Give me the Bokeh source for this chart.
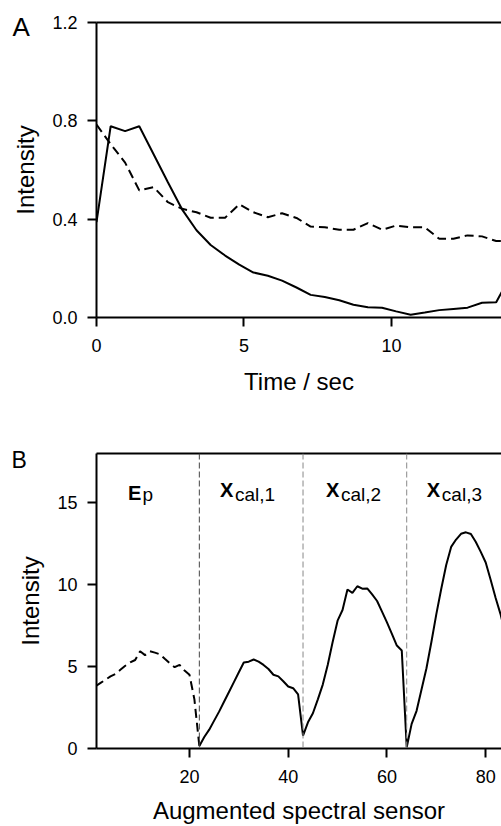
from bokeh.plotting import figure
from bokeh.models import Range1d, FixedTicker, PrintfTickFormatter, Span, Label, LinearAxis
from bokeh.layouts import column
from bokeh.embed import file_html
from bokeh.resources import INLINE

# ---------------- data: panel A ----------------
time_s = [0.00, 0.48, 0.97, 1.45, 1.94, 2.42, 2.90, 3.39, 3.87, 4.36, 4.84, 5.32,
          5.81, 6.29, 6.78, 7.26, 7.74, 8.23, 8.71, 9.20, 9.68, 10.16, 10.65,
          11.13, 11.62, 12.10, 12.58, 13.07, 13.55, 14.04]
solid_a = [0.388, 0.778, 0.758, 0.778, 0.663, 0.550, 0.440, 0.355, 0.295, 0.252,
           0.215, 0.183, 0.170, 0.150, 0.122, 0.092, 0.083, 0.070, 0.052, 0.042,
           0.040, 0.025, 0.011, 0.020, 0.030, 0.035, 0.040, 0.060, 0.062, 0.170]
dashed_a = [0.785, 0.705, 0.630, 0.517, 0.530, 0.469, 0.442, 0.428, 0.406, 0.406,
            0.460, 0.428, 0.408, 0.424, 0.405, 0.370, 0.367, 0.357, 0.357, 0.384,
            0.357, 0.374, 0.367, 0.367, 0.320, 0.320, 0.334, 0.330, 0.311, 0.311]
a_yticks = [0.0, 0.4, 0.8, 1.2]
a_xticks = [0, 5, 10]

# ---------------- data: panel B ----------------
sensor_ep = list(range(1, 23))
ep_vals = [3.80, 4.00, 4.20, 4.40, 4.55, 4.80, 5.05, 5.25, 5.40, 5.93, 5.70,
           5.93, 5.85, 5.75, 5.47, 5.20, 4.96, 5.10, 4.76, 4.50, 3.00, 0.15]
sensor_cal = list(range(22, 85))
cal_vals = [0.15, 0.70, 1.15, 1.70, 2.25, 2.85, 3.45, 4.05, 4.65, 5.25, 5.30,
            5.43, 5.30, 5.10, 4.85, 4.50, 4.40, 4.10, 3.78, 3.68, 3.30,
            0.79, 1.60, 2.15, 3.00, 3.90, 5.10, 6.50, 7.80, 8.45, 9.70, 9.50,
            9.90, 9.75, 9.77, 9.40, 9.00, 8.35, 7.70, 7.00, 6.28, 5.98,
            0.08, 1.50, 2.30, 3.60, 4.90, 6.50, 8.20, 9.75, 11.20, 12.30, 12.75,
            13.10, 13.19, 13.09, 12.60, 12.00, 11.35, 10.30, 9.20, 8.20, 7.00]
dividers = [22, 43, 64]
divider_colors = ["#444444", "#888888", "#888888"]
block_main = ["E", "X", "X", "X"]
block_sub = ["p", "cal,1", "cal,2", "cal,3"]
block_x = [7.55, 26.17, 47.63, 68.08]
b_yticks = [0, 5, 10, 15]
b_xticks = [20, 40, 60, 80]

FONT = "Liberation Sans"


def make_fig(xr, yr, xticks, yticks, xlabel, ylabel, top_border, bottom_border, xlab_standoff):
    p = figure(frame_width=405, frame_height=295, output_backend="svg",
               toolbar_location=None, x_range=xr, y_range=yr,
               x_axis_type=None, y_axis_type=None,
               min_border_left=96, min_border_right=0, min_border_top=top_border,
               min_border_bottom=bottom_border)
    p.outline_line_color = None
    p.grid.visible = False
    p.background_fill_color = "white"
    p.border_fill_color = "white"
    xa = LinearAxis(ticker=FixedTicker(ticks=xticks), axis_label=xlabel)
    ya = LinearAxis(ticker=FixedTicker(ticks=yticks), axis_label=ylabel)
    for ax in (xa, ya):
        ax.axis_line_width = 2
        ax.axis_line_color = "black"
        ax.major_tick_line_width = 2
        ax.major_tick_line_color = "black"
        ax.major_tick_out = 9
        ax.major_tick_in = 0
        ax.minor_tick_line_color = None
        ax.major_label_text_font = FONT
        ax.major_label_text_font_size = "18px"
        ax.major_label_text_color = "black"
        ax.major_label_standoff = 10
        ax.axis_label_text_font = FONT
        ax.axis_label_text_font_size = "24px"
        ax.axis_label_text_font_style = "normal"
        ax.axis_label_text_color = "black"
    xa.major_label_standoff = 12
    xa.axis_label_standoff = xlab_standoff
    ya.axis_label_standoff = 10
    p.add_layout(xa, "below")
    p.add_layout(ya, "left")
    top = LinearAxis(ticker=FixedTicker(ticks=[]), axis_line_width=2,
                     axis_line_color="black", major_tick_out=0, major_tick_in=0,
                     minor_tick_out=0, minor_tick_in=0, major_label_standoff=0,
                     major_label_text_font_size="1px")
    p.add_layout(top, "above")
    return p, ya


# ---------------- panel A ----------------
pa, pa_y = make_fig(Range1d(0, 13.73), Range1d(0, 1.2), a_xticks, a_yticks,
                    "Time / sec", "Intensity", 22, 110, 13)
pa_y.formatter = PrintfTickFormatter(format="%.1f")
pa.line(time_s, solid_a, line_color="black", line_width=2)
pa.line(time_s, dashed_a, line_color="black", line_width=2, line_dash="9 5")
pa.add_layout(Label(x=12, y=26, x_units="canvas", y_units="canvas", text="A",
                    text_font=FONT, text_font_size="26px",
                    text_baseline="alphabetic", text_align="left", text_color="black"),
              "below")

# ---------------- panel B ----------------
pb, pb_y = make_fig(Range1d(1.17, 83.2), Range1d(0, 18), b_xticks, b_yticks,
                    "Augmented spectral sensor", "Intensity", 23, 70, 11)
for d, c in zip(dividers, divider_colors):
    pb.add_layout(Span(location=d, dimension="height", line_color=c,
                       line_width=1, line_dash="6 3"))
pb.line(sensor_ep, ep_vals, line_color="black", line_width=2, line_dash="9 5")
pb.line(sensor_cal, cal_vals, line_color="black", line_width=2)
for i in range(len(block_main)):
    sub_dy = -1.5 if i == 0 else -4
    main_y = 15.58 if i == 0 else 15.76
    pb.add_layout(Label(x=block_x[i], y=main_y, text=block_main[i], text_font=FONT,
                        text_font_size="20px", text_font_style="bold",
                        text_baseline="alphabetic", text_align="left", text_color="black"))
    pb.add_layout(Label(x=block_x[i], y=main_y, x_offset=15 if i else 14.5, y_offset=sub_dy,
                        text=block_sub[i], text_font=FONT, text_font_size="19px",
                        text_baseline="alphabetic", text_align="left", text_color="black"))
pb.add_layout(Label(x=11, y=32, x_units="canvas", y_units="canvas", text="B",
                    text_font=FONT, text_font_size="23px",
                    text_baseline="alphabetic", text_align="left", text_color="black"),
              "above")

layout = column(pa, pb, spacing=0)
open("out.html", "w").write(file_html(layout, INLINE))
